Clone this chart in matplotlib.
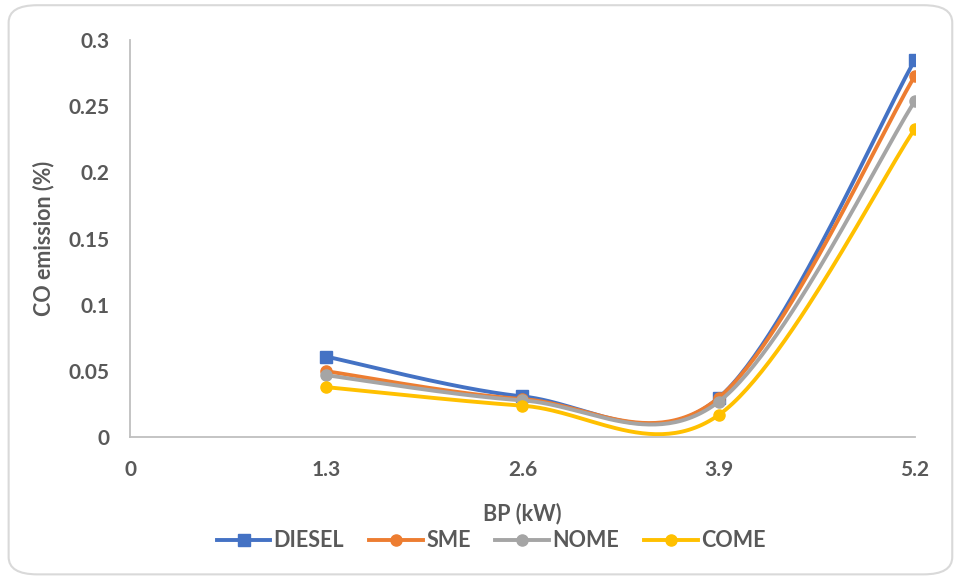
import matplotlib
matplotlib.use('Agg')
import matplotlib.pyplot as plt
from matplotlib.patches import FancyBboxPatch
import numpy as np

# brake power (kW) and CO emission (%) for each fuel
bp = [1.3, 2.6, 3.9, 5.2]
diesel = [0.061, 0.031, 0.030, 0.285]
sme = [0.050, 0.029, 0.030, 0.273]
nome = [0.047, 0.028, 0.027, 0.254]
come = [0.038, 0.024, 0.017, 0.233]

x_ticks = [0, 1.3, 2.6, 3.9, 5.2]
x_labels = ['0', '1.3', '2.6', '3.9', '5.2']
y_ticks = [0, 0.05, 0.1, 0.15, 0.2, 0.25, 0.3]
y_labels = ['0', '0.05', '0.1', '0.15', '0.2', '0.25', '0.3']


def smooth(xs, ys, n=60):
    # cubic Bezier through the points, tangents from neighbouring points
    p = np.column_stack([xs, ys]).astype(float)
    ext = np.vstack([p[0], p, p[-1]])
    out = []
    for i in range(len(p) - 1):
        p0, p3 = p[i], p[i + 1]
        c1 = p0 + (ext[i + 2] - ext[i]) / 6.0
        c2 = p3 - (ext[i + 3] - ext[i + 1]) / 6.0
        t = np.linspace(0, 1, n)[:, None]
        seg = ((1 - t) ** 3) * p0 + 3 * ((1 - t) ** 2) * t * c1 \
            + 3 * (1 - t) * t ** 2 * c2 + t ** 3 * p3
        out.append(seg if i == 0 else seg[1:])
    pts = np.vstack(out)
    return pts[:, 0], pts[:, 1]


plt.rcParams['font.family'] = ['Lato', 'DejaVu Sans']
text_col = '#595959'
fw = 'bold'

fig = plt.figure(figsize=(9.58, 5.79), dpi=100)
ax = fig.add_axes([0.1357, 0.2444, 0.8194, 0.6866])

series = [
    ('DIESEL', diesel, '#4472C4', 's'),
    ('SME', sme, '#ED7D31', 'o'),
    ('NOME', nome, '#A5A5A5', 'o'),
    ('COME', come, '#FFC000', 'o'),
]
for name, vals, col, mk in series:
    sx, sy = smooth(bp, vals)
    ax.plot(sx, sy, color=col, lw=2.8, solid_capstyle='round')
    ax.plot(bp, vals, ls='none', marker=mk, ms=8, color=col)
    ax.plot([], [], color=col, lw=2.8, marker=mk, ms=8, label=name)

ax.set_xlim(0, 5.2)
ax.set_ylim(0, 0.3)
ax.set_xticks(x_ticks)
ax.set_xticklabels(x_labels, fontweight=fw)
ax.set_yticks(y_ticks)
ax.set_yticklabels(y_labels, fontweight=fw)
ax.tick_params(length=0, labelsize=15, colors=text_col)
ax.tick_params(axis='x', pad=16)
ax.tick_params(axis='y', pad=15)
for side in ['top', 'right']:
    ax.spines[side].set_visible(False)
for side in ['left', 'bottom']:
    ax.spines[side].set_color('#BFBFBF')
    ax.spines[side].set_linewidth(1.3)

ax.set_xlabel('BP (kW)', fontsize=15.5, color=text_col, fontweight=fw,
              va='center')
ax.xaxis.set_label_coords(0.5, -0.19)
ax.set_ylabel('CO emission (%)', fontsize=15.5, color=text_col,
              fontweight=fw, va='center')
ax.yaxis.set_label_coords(-0.1096, 0.5)

leg = ax.legend(loc='center', bbox_to_anchor=(0.46, -0.26), ncol=4,
                frameon=False, handlelength=2.5, columnspacing=1.15,
                handletextpad=0.15,
                prop={'size': 15.5, 'weight': fw})
for t in leg.get_texts():
    t.set_color(text_col)

# rounded chart border
frame = FancyBboxPatch((0.009, 0.008), 0.985, 0.983,
                       boxstyle='round,pad=0,rounding_size=0.03',
                       transform=fig.transFigure, fill=False,
                       edgecolor='#D9D9D9', lw=1.5)
fig.patches.append(frame)

fig.savefig('out.png', dpi=100)
